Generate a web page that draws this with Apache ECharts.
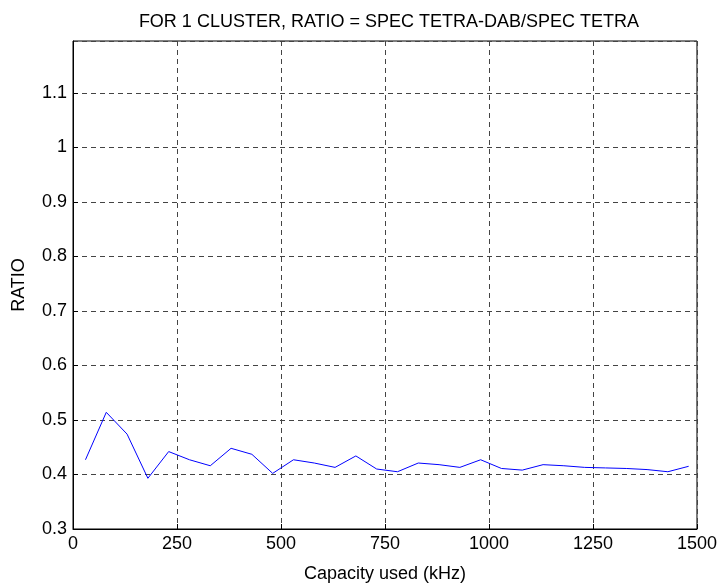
<!DOCTYPE html>
<html>
<head>
<meta charset="utf-8">
<script src="https://cdn.jsdelivr.net/npm/echarts@6/dist/echarts.min.js"></script>
<style>
  html, body { margin: 0; padding: 0; background: #fff; }
  #chart { width: 720px; height: 588px; }
</style>
</head>
<body>
<div id="chart"></div>
<script>
  // capacity used (kHz) and ratio values
  var capacity = [30, 80, 130, 180, 230, 280, 330, 380, 430, 480,
                  530, 580, 630, 680, 730, 780, 830, 880, 930, 980,
                  1030, 1080, 1130, 1180, 1230, 1280, 1330, 1380, 1430, 1480];
  var ratio = [0.427, 0.514, 0.474, 0.393, 0.442, 0.427, 0.416, 0.448, 0.437, 0.402,
               0.427, 0.421, 0.413, 0.434, 0.410, 0.405, 0.421, 0.418, 0.413, 0.427,
               0.411, 0.408, 0.418, 0.416, 0.413, 0.412, 0.411, 0.409, 0.405, 0.415];

  var points = capacity.map(function (c, i) { return [c, ratio[i]]; });

  var chart = echarts.init(document.getElementById('chart'));
  var font = 'Liberation Sans, Arial, sans-serif';
  var gridDash = { color: '#444', type: [5, 4], width: 1 };

  chart.setOption({
    animation: false,
    title: {
      text: 'FOR 1 CLUSTER, RATIO = SPEC TETRA-DAB/SPEC TETRA',
      left: 384,
      textAlign: 'center',
      top: 8,
      textStyle: { fontFamily: font, fontSize: 18, fontWeight: 'normal', color: '#000' }
    },
    grid: {
      left: 73, right: 23, top: 41, bottom: 56,
      show: true, borderColor: '#000', borderWidth: 1
    },
    xAxis: {
      type: 'value',
      min: 0, max: 1500, interval: 250,
      name: 'Capacity used (kHz)',
      nameLocation: 'middle',
      nameGap: 36,
      nameTextStyle: { fontFamily: font, fontSize: 18, color: '#000' },
      axisLine: { lineStyle: { color: '#000' } },
      axisTick: { inside: true, length: 5, lineStyle: { color: '#000' } },
      axisLabel: {
        fontFamily: font, fontSize: 18, color: '#000', margin: 6,
        formatter: function (v) { return String(v); }
      },
      splitLine: { show: true, lineStyle: gridDash }
    },
    yAxis: {
      type: 'value',
      min: 0.3, max: 1.195, interval: 0.1,
      name: 'RATIO',
      nameLocation: 'middle',
      nameGap: 45,
      nameTextStyle: { fontFamily: font, fontSize: 18, color: '#000' },
      axisLine: { show: true, lineStyle: { color: '#000' } },
      axisTick: { inside: true, length: 5, lineStyle: { color: '#000' } },
      axisLabel: {
        fontFamily: font, fontSize: 18, color: '#000', margin: 6,
        showMaxLabel: false,
        formatter: function (v) { return String(Math.round(v * 10) / 10); }
      },
      splitLine: { show: true, lineStyle: gridDash }
    },
    series: [{
      type: 'line',
      data: points,
      symbol: 'none',
      lineStyle: { color: '#0000ff', width: 1 }
    }]
  });
</script>
</body>
</html>
